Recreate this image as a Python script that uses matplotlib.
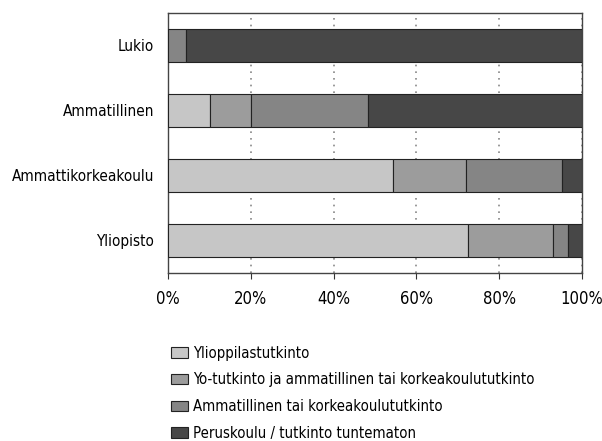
import matplotlib
matplotlib.use('Agg')
import matplotlib.pyplot as plt
import numpy as np

plt.rcParams['font.family'] = ['DejaVu Sans']
plt.rcParams['font.stretch'] = 'condensed'

categories = ['Lukio', 'Ammatillinen', 'Ammattikorkeakoulu', 'Yliopisto']
series_names = [
    'Ylioppilastutkinto',
    'Yo-tutkinto ja ammatillinen tai korkeakoulututkinto',
    'Ammatillinen tai korkeakoulututkinto',
    'Peruskoulu / tutkinto tuntematon',
]
# shares (%) per category, one list per series
ylioppilas = [0.0, 10.1, 54.3, 72.5]
yo_ja_tutkinto = [0.0, 9.9, 17.7, 20.5]
tutkinto = [4.3, 28.3, 23.2, 3.6]
perus = [95.7, 51.7, 4.8, 3.4]
series = [ylioppilas, yo_ja_tutkinto, tutkinto, perus]
colors = ['#c6c6c6', '#9c9c9c', '#858585', '#474747']
xticks = [0, 20, 40, 60, 80, 100]

fig = plt.figure(figsize=(6.02, 4.41), dpi=100)
ax = fig.add_axes([0.279, 0.381, 0.688, 0.590])

y = np.arange(len(categories))
left = np.zeros(len(categories))
handles = []
for vals, col, name in zip(series, colors, series_names):
    vals = np.array(vals)
    h = ax.barh(y, vals, left=left, height=0.5, color=col,
                edgecolor='#222222', linewidth=0.8, zorder=3, label=name)
    handles.append(h)
    left += vals

ax.set_xlim(0, 100)
ax.set_ylim(len(categories) - 0.5, -0.5)
ax.set_yticks(y)
ax.set_yticklabels(categories, fontsize=11)
ax.tick_params(axis='y', length=0, pad=10)
ax.set_xticks(xticks)
ax.set_xticklabels([f'{t}%' for t in xticks], fontsize=12)
ax.tick_params(axis='x', length=4, color='#333333', pad=8)
ax.xaxis.grid(True, linestyle=(0, (1, 3)), color='#888888', linewidth=1.2, zorder=0)
ax.set_axisbelow(True)
for s in ax.spines.values():
    s.set_color('#444444')
    s.set_linewidth(1.0)

fig.legend(handles=handles, loc='upper left', bbox_to_anchor=(0.272, 0.233),
           frameon=False, fontsize=10.7, handlelength=1.1, handleheight=0.7,
           handletextpad=0.4, labelspacing=0.79, borderpad=0)

fig.savefig('out.png', dpi=100)
